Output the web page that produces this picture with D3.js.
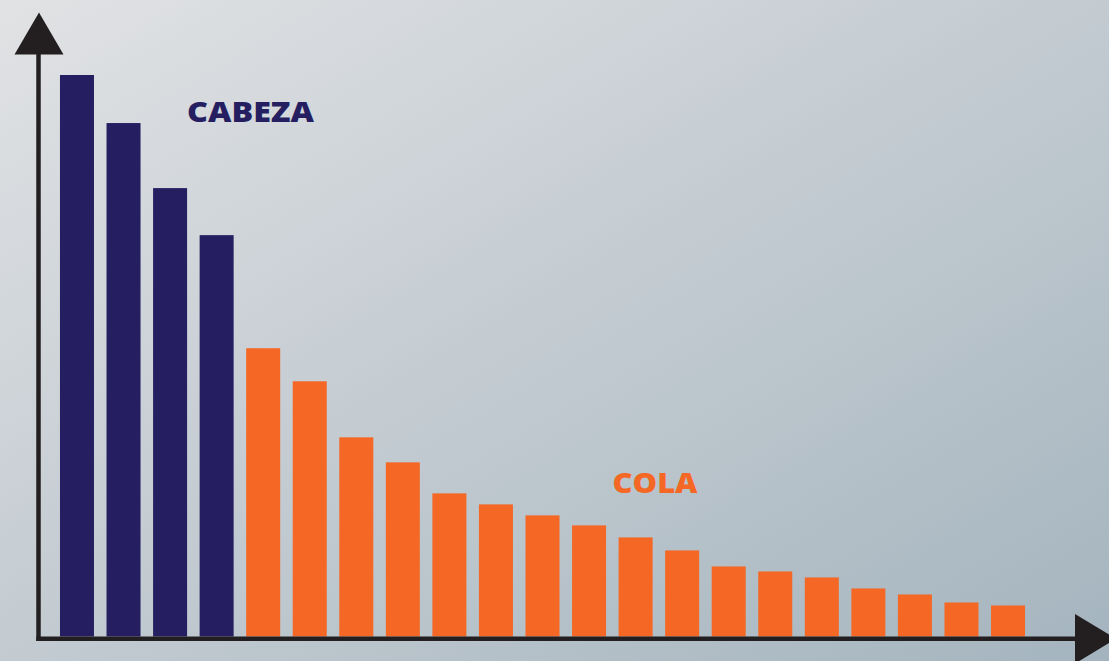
<!DOCTYPE html>
<html><head><meta charset="utf-8">
<script src="https://cdn.jsdelivr.net/npm/d3@7"></script>
<style>html,body{margin:0;padding:0;overflow:hidden;background:#c5ccd2}</style>
</head><body>
<script>
// Data
const categories = d3.range(1, 22).map(i => "P" + i);
const values = [561, 513, 448, 401, 288, 255, 199, 174, 143, 132, 121, 111, 99, 86, 70, 65, 59, 48, 42, 34, 31];
const groups = ["head","head","head","head","tail","tail","tail","tail","tail","tail","tail","tail","tail","tail","tail","tail","tail","tail","tail","tail","tail"];
const labels = ["CABEZA", "COLA"];

const W = 1109, H = 661;
const svg = d3.select("body").append("svg").attr("width", W).attr("height", H);

const defs = svg.append("defs");
const grad = defs.append("linearGradient").attr("id", "bg")
  .attr("x1", "0%").attr("y1", "0%").attr("x2", "100%").attr("y2", "100%");
grad.append("stop").attr("offset", "0%").attr("stop-color", "#e1e2e4");
grad.append("stop").attr("offset", "100%").attr("stop-color", "#a4b4be");
svg.append("rect").attr("width", W).attr("height", H).attr("fill", "url(#bg)");

const baseY = 636.5;
const x = d3.scaleBand().domain(categories).range([36.7, 1048.3]).paddingInner(0.2696).paddingOuter(0.5);
const y = d3.scaleLinear().domain([0, 561]).range([baseY, 75]);

const color = {head: "#251f61", tail: "#f46724"};

svg.append("g").selectAll("rect").data(values).join("rect")
  .attr("x", (d, i) => x(categories[i]))
  .attr("width", x.bandwidth())
  .attr("y", d => y(d))
  .attr("height", d => y(0) - y(d))
  .attr("fill", (d, i) => color[groups[i]]);

// Axes
const axisColor = "#231f20";
svg.append("line").attr("x1", 38.5).attr("x2", 38.5).attr("y1", 50).attr("y2", 641)
  .attr("stroke", axisColor).attr("stroke-width", 4.5);
svg.append("line").attr("x1", 36.3).attr("x2", 1080).attr("y1", 638.8).attr("y2", 638.8)
  .attr("stroke", axisColor).attr("stroke-width", 4.5);
svg.append("path").attr("d", "M39,12.5 L63.5,54.5 L14.5,54.5 Z").attr("fill", axisColor);
svg.append("path").attr("d", "M1075,614 L1116,638.8 L1075,663.6 Z").attr("fill", axisColor);

// Labels
svg.append("text").text(labels[0]).attr("x", 187).attr("y", 122)
  .attr("font-family", "'Open Sans', sans-serif").attr("font-weight", 800)
  .attr("font-size", 28).attr("fill", color.head)
  .attr("textLength", 127).attr("lengthAdjust", "spacingAndGlyphs");
svg.append("text").text(labels[1]).attr("x", 612.5).attr("y", 492.5)
  .attr("font-family", "'Open Sans', sans-serif").attr("font-weight", 800)
  .attr("font-size", 28).attr("fill", color.tail)
  .attr("textLength", 85).attr("lengthAdjust", "spacingAndGlyphs");
</script>
</body></html>
